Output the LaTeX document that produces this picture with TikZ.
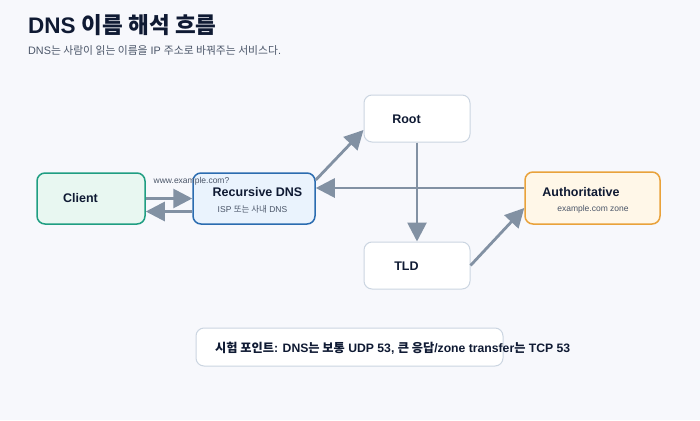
\documentclass[tikz,border=0pt]{standalone}
\usepackage{fontspec}
\setmainfont{Liberation Sans}
\newfontfamily\kr{Noto Sans CJK KR}
\usetikzlibrary{arrows.meta}
\definecolor{bgc}{HTML}{F7F8FC}
\definecolor{titlec}{HTML}{0F1A33}
\definecolor{subc}{HTML}{4A5568}
\definecolor{arrc}{HTML}{8291A3}
\definecolor{clientfill}{HTML}{E8F7F1}
\definecolor{clientdraw}{HTML}{1F9E82}
\definecolor{recfill}{HTML}{EAF3FD}
\definecolor{recdraw}{HTML}{2B6CB0}
\definecolor{authfill}{HTML}{FFF7E8}
\definecolor{authdraw}{HTML}{E9A23B}
\definecolor{greydraw}{HTML}{CBD5E1}
\newcommand{\K}[1]{{\kr #1}}
\begin{document}
\begin{tikzpicture}[x=1pt,y=-1pt,
  box/.style={rectangle,rounded corners=8pt,inner sep=0pt},
  plainbox/.style={box,fill=white,draw=greydraw,line width=1pt},
  lbl/.style={inner sep=0pt,font=\fontsize{12.5}{14}\selectfont\bfseries,text=titlec},
  sml/.style={inner sep=0pt,font=\fontsize{8.5}{10}\selectfont,text=subc},
  arr/.style={draw=arrc,line width=2.8pt,-{Triangle[length=19pt,width=19pt]}}]
\fill[bgc] (0,0) rectangle (700,420);
\useasboundingbox (0,0) rectangle (700,420);
% title
\node[inner sep=0pt,anchor=west,text=titlec,font=\fontsize{22.5}{26}\selectfont\bfseries] (title) at (28,25) {DNS \K{이름 해석 흐름}};
\node[inner sep=0pt,anchor=west,text=subc,font=\fontsize{10.8}{12}\selectfont] (sub) at (28,50) {DNS\K{는 사람이 읽는 이름을} IP \K{주소로 바꿔주는 서비스다}.};
% boxes
\node[box,fill=clientfill,draw=clientdraw,line width=1.5pt,minimum width=108pt,minimum height=51pt] (client) at (91,198.5) {};
\node[box,fill=recfill,draw=recdraw,line width=1.5pt,minimum width=122pt,minimum height=51pt] (rec) at (254,198.5) {};
\node[plainbox,minimum width=106pt,minimum height=47pt] (root) at (417,118.5) {};
\node[plainbox,minimum width=106pt,minimum height=47pt] (tld) at (417,265.5) {};
\node[box,fill=authfill,draw=authdraw,line width=1.5pt,minimum width=135pt,minimum height=52pt] (auth) at (592.5,198) {};
\node[plainbox,minimum width=307pt,minimum height=38pt] (note) at (349.5,347) {};
% labels
\node[lbl] (clientl) at (80.5,198.5) {Client};
\node[lbl] (recl) at (257.5,192) {Recursive DNS};
\node[sml] (recs) at (252.5,209) {ISP \K{또는 사내} DNS};
\node[lbl] (rootl) at (406.5,119) {Root};
\node[lbl] (tldl) at (406.5,266) {TLD};
\node[lbl] (authl) at (581,192) {Authoritative};
\node[sml] (auths) at (593,209) {example.com zone};
\node[sml] (q) at (191.5,181.5) {www.example.com?};
\node[lbl,anchor=west,font=\fontsize{12.2}{14}\selectfont\bfseries] (notel) at (215,348) {\K{시험 포인트}: DNS\K{는 보통} UDP 53, \K{큰 응답}/zone transfer\K{는} TCP 53};
% connectors
\draw[arr] (client.east) -- (rec.west);
\draw[arr] ([yshift=-13pt]rec.west) -- ([yshift=-13pt]client.east);
\draw[arr] ([yshift=18.5pt]rec.east) -- ([yshift=-11.5pt]root.west);
\draw[arr] (root.south) -- (tld.north);
\draw[arr] (tld.east) -- ([yshift=-10pt]auth.west);
\draw[arr] ([yshift=10pt]auth.west) -- ([yshift=10.5pt]rec.east);
\end{tikzpicture}
\end{document}
